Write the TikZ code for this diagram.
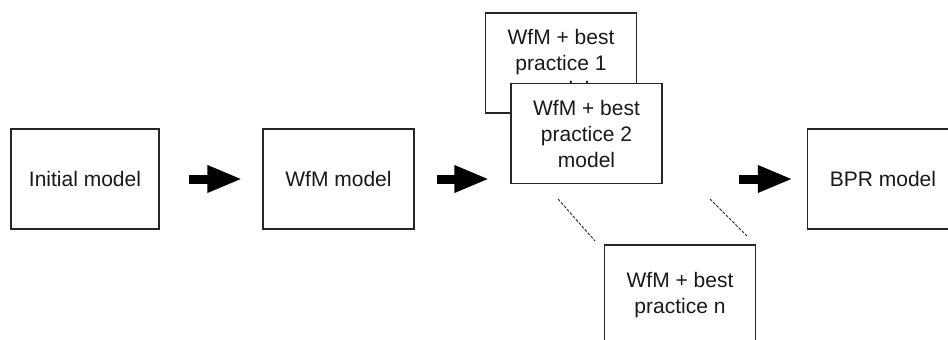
\documentclass[tikz,border=0pt]{standalone}
\usepackage{fontspec}
\setmainfont{Liberation Sans}
\usetikzlibrary{arrows.meta}

\tikzset{
  model/.style={draw=black!85, line width=1.1pt, fill=white, rectangle,
    minimum width=151pt, minimum height=100pt, inner sep=0pt,
    align=center, font=\fontsize{21}{26}\selectfont, text=black!90},
  fatarrow/.style={line width=9pt, draw=black,
    -{Triangle[length=35pt,width=25pt]}},
  gap/.style={draw=black!85, line width=0.9pt, dash pattern=on 3pt off 1.5pt}
}

\begin{document}
\begin{tikzpicture}[x=1pt, y=-1pt]
  \useasboundingbox (0,0) rectangle (948,340);
  \clip (0,0) rectangle (948,340);

  % main chain of models
  \node[model, minimum width=148pt] (init) at (85,179) {Initial model};
  \node[model] (wfm) at (338.5,179) {WfM model};
  \node[model] (bpr) at (883,179) {BPR model};

  % stack of best-practice variants
  \node[model] (bp1) at (561,63) {WfM + best\\practice 1\\model};
  \node[model] (bp2) at (586.5,133.5) {WfM + best\\practice 2\\model};
  \node[model] (bpn) at (680,295) {WfM + best\\practice n};

  % transformation steps
  \draw[fatarrow, shorten <=29pt, shorten >=20pt] (init.east) -- (wfm.west);
  \draw[fatarrow, shorten <=22pt, shorten >=21pt] (wfm.east) -- (wfm.east -| bp2.west);
  \draw[fatarrow, shorten <=76pt, shorten >=14pt] (bp2.east |- bpr.west) -- (bpr.west);

  % ellipsis between the second and the n-th variant
  \coordinate (g1a) at (558,199);
  \coordinate (g1b) at (595,241);
  \coordinate (g2a) at (710,199);
  \coordinate (g2b) at (747,236);
  \draw[gap] (g1a) -- (g1b);
  \draw[gap] (g2a) -- (g2b);
\end{tikzpicture}
\end{document}
